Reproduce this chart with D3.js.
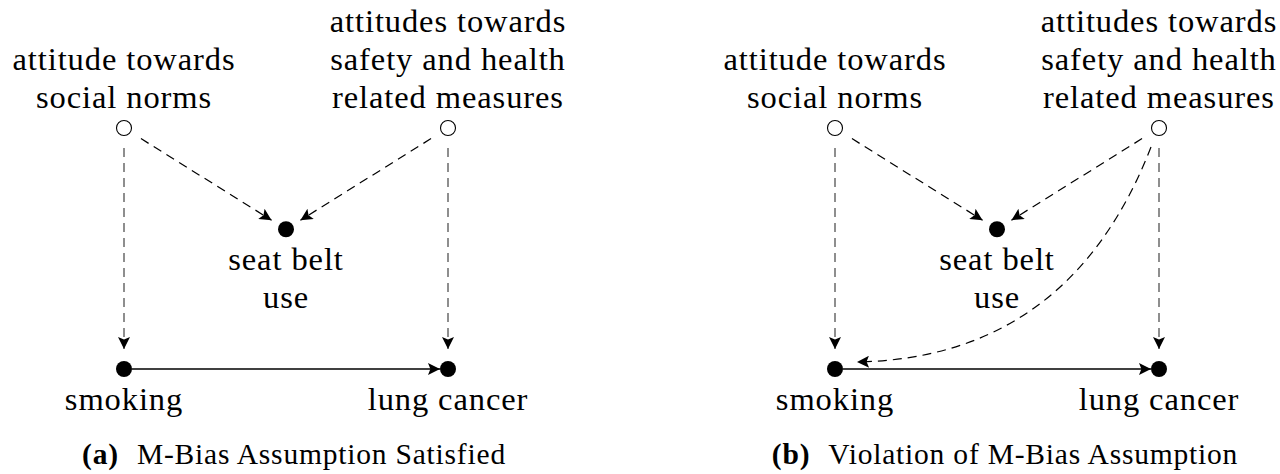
<!DOCTYPE html>
<html>
<head>
<meta charset="utf-8">
<script src="https://cdn.jsdelivr.net/npm/d3@7"></script>
<style>
  html, body { margin: 0; padding: 0; background: #fff; }
  svg { display: block; }
</style>
</head>
<body>
<svg id="chart" width="1280" height="474"></svg>
<script>
// ---- data ----
const panels = ["a", "b"];
const captionTags = ["(a)", "(b)"];
const captionTexts = ["M-Bias Assumption Satisfied", "Violation of M-Bias Assumption"];

// nodes in abstract layout units (col 0..1, level 0..1)
const nodeIds    = ["U1", "U2", "M", "X", "Y"];
const nodeCols   = [0, 1, 0.5, 0, 1];
const nodeLevels = [0, 0, 0.42, 1, 1];
const nodeLatent = [true, true, false, false, false];
const nodeLabels = [
  ["attitude towards", "social norms"],
  ["attitudes towards", "safety and health", "related measures"],
  ["seat belt", "use"],
  ["smoking"],
  ["lung cancer"]
];
const nodeLabelSide = ["above", "above", "below", "below", "below"];

// edges: [from, to, style]
const edgesA = [
  ["U1", "M", "dashed"],
  ["U2", "M", "dashed"],
  ["U1", "X", "dashed"],
  ["U2", "Y", "dashed"],
  ["X", "Y", "solid"]
];
const edgesB = edgesA.concat([["U2", "X", "curved"]]);
const panelEdges = [edgesA, edgesB];

// ---- layout ----
const FONT = '"Liberation Serif", serif';
const svg = d3.select("#chart");
const panelX = [[124, 448], [835, 1159]];
const yScale = d3.scaleLinear().domain([0, 1]).range([128, 369]);
const R = 8;
const lineGap = 38;

const defs = svg.append("defs");
defs.append("marker")
  .attr("id", "arrow")
  .attr("viewBox", "0 0 10 10")
  .attr("refX", 10).attr("refY", 5)
  .attr("markerUnits", "userSpaceOnUse")
  .attr("markerWidth", 14).attr("markerHeight", 12)
  .attr("orient", "auto")
  .append("path").attr("d", "M0,0 L10,5 L0,10 L2,5 Z").attr("fill", "#000");

panels.forEach((p, pi) => {
  const xScale = d3.scaleLinear().domain([0, 1]).range(panelX[pi]);
  const g = svg.append("g").style("font-family", FONT);
  const pos = {};
  nodeIds.forEach((id, i) => { pos[id] = { x: xScale(nodeCols[i]), y: yScale(nodeLevels[i]) }; });

  panelEdges[pi].forEach(([s, t, style]) => {
    const a = pos[s], b = pos[t];
    if (style === "curved") {
      const p0 = { x: a.x - 8, y: a.y + 19 };
      const p2 = { x: b.x + 22, y: b.y - 7 };
      const c = { x: p0.x - 0.377 * (p2.y + 2 - p0.y), y: p2.y + 2 };
      const path = d3.path();
      path.moveTo(p0.x, p0.y);
      path.quadraticCurveTo(c.x, c.y - 6, p2.x, p2.y);
      g.append("path")
        .attr("d", path.toString())
        .attr("fill", "none").attr("stroke", "#000").attr("stroke-width", 1.2)
        .attr("stroke-dasharray", "9,6")
        .attr("marker-end", "url(#arrow)");
      return;
    }
    const dx = b.x - a.x, dy = b.y - a.y, L = Math.hypot(dx, dy);
    const ux = dx / L, uy = dy / L;
    let startGap, endGap;
    if (style === "solid") { startGap = R; endGap = R; }
    else if (dx === 0) { startGap = 20; endGap = 20; }
    else { startGap = 20; endGap = 17; }
    g.append("line")
      .attr("x1", a.x + ux * startGap).attr("y1", a.y + uy * startGap)
      .attr("x2", b.x - ux * endGap).attr("y2", b.y - uy * endGap)
      .attr("stroke", style === "dashed" && dx === 0 ? "#444" : "#000")
      .attr("stroke-width", style === "solid" ? 1.3 : 1.2)
      .attr("stroke-dasharray", style === "dashed" ? "9,6" : null)
      .attr("marker-end", "url(#arrow)");
  });

  nodeIds.forEach((id, i) => {
    g.append("circle")
      .attr("cx", pos[id].x).attr("cy", pos[id].y).attr("r", nodeLatent[i] ? 7.5 : R)
      .attr("fill", nodeLatent[i] ? "#fff" : "#000")
      .attr("stroke", "#000").attr("stroke-width", nodeLatent[i] ? 1.1 : 0);
  });

  nodeIds.forEach((id, i) => {
    const lines = nodeLabels[i];
    const n = lines.length;
    lines.forEach((ln, li) => {
      const y = nodeLabelSide[i] === "above"
        ? pos[id].y - 20 - (n - 1 - li) * lineGap
        : pos[id].y + 41 + li * lineGap;
      g.append("text")
        .attr("x", pos[id].x).attr("y", y)
        .attr("text-anchor", "middle")
        .style("font-family", FONT)
        .style("font-size", "32.5px")
        .style("letter-spacing", "0.9px")
        .attr("fill", "#000")
        .text(ln);
    });
  });

  const cx = (panelX[pi][0] + panelX[pi][1]) / 2 + 8;
  const cap = g.append("text")
    .attr("x", cx).attr("y", 464)
    .attr("text-anchor", "middle")
    .style("font-family", FONT)
    .style("font-size", "29.5px")
    .style("letter-spacing", "0.8px")
    .attr("fill", "#000");
  cap.append("tspan").style("font-weight", "bold").text(captionTags[pi]);
  cap.append("tspan").attr("dx", 18).text(captionTexts[pi]);
});
</script>
</body>
</html>
